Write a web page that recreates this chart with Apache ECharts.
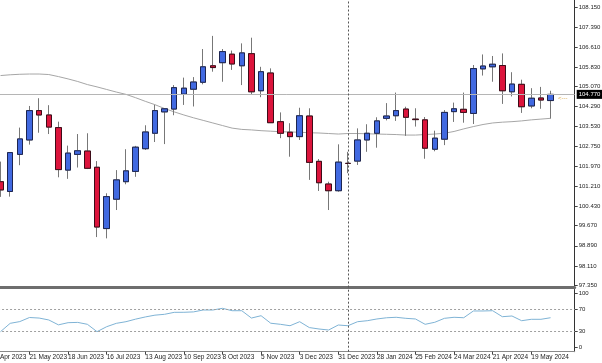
<!DOCTYPE html>
<html><head><meta charset="utf-8">
<script src="https://cdn.jsdelivr.net/npm/echarts@6/dist/echarts.min.js"></script>
<style>html,body{margin:0;padding:0;background:#fff;overflow:hidden}#c{width:602px;height:363px}</style>
</head><body><div id="c"></div>
<script>
// weekly categories (first and last two are empty slots)
const categories = ['23 Apr 2023','30 Apr 2023','7 May 2023','14 May 2023','21 May 2023','28 May 2023','4 Jun 2023','11 Jun 2023','18 Jun 2023','25 Jun 2023','2 Jul 2023','9 Jul 2023','16 Jul 2023','23 Jul 2023','30 Jul 2023','6 Aug 2023','13 Aug 2023','20 Aug 2023','27 Aug 2023','3 Sep 2023','10 Sep 2023','17 Sep 2023','24 Sep 2023','1 Oct 2023','8 Oct 2023','15 Oct 2023','22 Oct 2023','29 Oct 2023','5 Nov 2023','12 Nov 2023','19 Nov 2023','26 Nov 2023','3 Dec 2023','10 Dec 2023','17 Dec 2023','24 Dec 2023','31 Dec 2023','7 Jan 2024','14 Jan 2024','21 Jan 2024','28 Jan 2024','4 Feb 2024','11 Feb 2024','18 Feb 2024','25 Feb 2024','3 Mar 2024','10 Mar 2024','17 Mar 2024','24 Mar 2024','31 Mar 2024','7 Apr 2024','14 Apr 2024','21 Apr 2024','28 Apr 2024','5 May 2024','12 May 2024','19 May 2024','26 May 2024','2 Jun 2024','9 Jun 2024','16 Jun 2024'];
const firstBar = 1; // index in categories of the first candle (30 Apr 2023)

const open  = [101.38,101.00,102.44,103.00,104.14,103.97,103.48,101.83,102.44,102.57,101.94,99.56,100.70,101.38,101.78,102.66,103.26,104.09,104.20,104.78,104.97,105.24,105.88,106.00,106.33,105.88,106.35,104.91,105.60,103.71,103.30,103.13,103.93,102.17,101.29,101.03,102.09,102.18,103.00,103.26,103.84,103.94,104.20,103.81,103.78,102.64,103.03,104.10,104.19,104.03,105.76,105.84,105.89,104.87,105.16,104.32,104.63,104.53];
const close = [101.06,102.51,103.04,104.14,103.97,103.50,101.85,102.49,102.58,101.90,99.62,100.80,101.45,101.80,102.72,103.31,104.14,104.21,105.03,105.01,105.25,105.84,105.81,106.43,105.95,106.38,104.87,105.65,103.67,103.26,103.13,103.94,102.13,101.34,101.03,102.14,102.09,103.00,103.26,103.74,103.93,104.14,103.88,103.79,102.68,103.07,104.07,104.21,104.07,105.77,105.87,105.94,104.91,105.17,104.29,104.62,104.55,104.77];
const low   = [100.79,100.80,102.02,102.82,103.28,103.23,101.55,101.49,101.93,101.87,99.23,99.18,100.28,101.28,101.57,102.61,102.92,102.84,103.96,104.36,104.30,105.16,105.65,105.26,105.72,105.13,104.75,104.66,103.66,103.07,102.35,103.00,101.45,101.02,100.28,100.99,101.71,102.03,102.54,102.70,103.76,103.74,103.16,103.52,102.27,102.56,102.80,103.70,103.67,103.62,105.50,105.26,104.40,104.69,104.05,104.23,104.21,103.83];
const high  = [102.16,102.53,103.48,104.32,104.62,104.35,103.71,102.78,103.23,103.26,102.18,100.93,101.83,102.64,102.77,103.57,104.36,104.23,105.13,105.42,105.44,106.53,107.04,106.53,106.47,106.75,106.97,105.84,105.78,104.07,103.65,104.25,104.23,102.26,101.38,102.83,102.54,103.45,103.61,103.88,104.43,104.84,104.29,104.23,103.89,103.36,104.16,104.45,104.84,105.91,106.32,106.26,106.36,105.63,105.34,105.01,105.06,104.91];
const movingAvg = [105.50,105.53,105.55,105.56,105.56,105.54,105.46,105.37,105.27,105.15,105.06,104.96,104.86,104.77,104.64,104.50,104.37,104.22,104.09,103.97,103.86,103.76,103.66,103.56,103.46,103.41,103.39,103.36,103.34,103.32,103.31,103.30,103.28,103.27,103.25,103.23,103.25,103.25,103.24,103.23,103.22,103.21,103.19,103.19,103.21,103.23,103.26,103.33,103.43,103.52,103.60,103.66,103.69,103.71,103.74,103.78,103.81,103.84];
const rsi = [29.5,44.8,48,55.5,54.5,51,42,46,46.5,43,29.5,38.6,44.8,47.8,52.5,56.5,59.8,61.4,65,65.1,65.8,69.3,69.3,72.4,68,68,54.5,58.8,45,43,40.4,47.8,37,34.4,32.5,41.7,40.4,47.8,49.6,52.8,55,55.9,54,52.8,43,46.7,54,55.9,55.1,67.5,67.5,68,57,58.3,49.6,52.2,52.2,55.1];

const priceTicks = [97.35,98.11,98.89,99.67,100.43,101.21,101.97,102.75,103.53,104.29,105.07,105.83,106.61,107.39,108.15];
const priceMin = 97.35, priceMax = 108.15;
const lastPrice = 104.77;
const rsiTicks = [0,30,70,100];
const rsiLevels = [70,30];
const xTickLabels = ['23 Apr 2023','21 May 2023','18 Jun 2023','16 Jul 2023','13 Aug 2023','10 Sep 2023','8 Oct 2023','5 Nov 2023','3 Dec 2023','31 Dec 2023','28 Jan 2024','25 Feb 2024','24 Mar 2024','21 Apr 2024','19 May 2024'];
const separatorDate = '7 Jan 2024';

const idxOf = k => { const i = k - firstBar; return (i >= 0 && i < open.length) ? i : -1; };
const wickData = categories.map((_, k) => { const i = idxOf(k); return i < 0 ? ['-','-','-','-'] : [open[i], close[i], low[i], high[i]]; });
const bodyData = categories.map((_, k) => { const i = idxOf(k); return i < 0 ? ['-','-','-','-'] : [open[i], close[i], Math.min(open[i], close[i]), Math.max(open[i], close[i])]; });
const pad = arr => categories.map((_, k) => { const i = idxOf(k); return i < 0 ? '-' : arr[i]; });

const FONT = 'Liberation Sans';
const L = -13.95, R = 27.3;
const hiddenCat = gi => ({ type:'category', gridIndex:gi, data:categories, boundaryGap:true,
  axisLine:{show:false}, axisTick:{show:false}, axisLabel:{show:false}, splitLine:{show:false} });

const chart = echarts.init(document.getElementById('c'), null, {renderer:'canvas'});
chart.setOption({
  animation:false,
  backgroundColor:'#ffffff',
  grid:[
    {left:L, right:R, top:7.3, bottom:77.5, outerBoundsMode:'none', containLabel:false},
    {left:L, right:R, top:0, bottom:75.5, outerBoundsMode:'none', containLabel:false},
    {left:L, right:R, top:289.5, bottom:11.3, outerBoundsMode:'none', containLabel:false},
    {left:L, right:R, top:293.3, bottom:15.3, outerBoundsMode:'none', containLabel:false}
  ],
  xAxis:[
    hiddenCat(0),
    Object.assign(hiddenCat(1), {axisLine:{show:true, onZero:false, lineStyle:{color:'#6e6e6e', width:3}}}),
    Object.assign(hiddenCat(2), {
      axisLine:{show:true, onZero:false, lineStyle:{color:'#8a8a8a', width:1}},
      axisTick:{show:true, alignWithLabel:true, length:3, lineStyle:{color:'#444'},
        interval:(i, v) => xTickLabels.includes(v)},
      axisLabel:{show:true, align:'left', margin:2, fontSize:6.5, fontFamily:FONT, color:'#222',
        interval:(i, v) => xTickLabels.includes(v)}
    }),
    hiddenCat(3)
  ],
  yAxis:[
    {type:'value', gridIndex:0, position:'right', min:priceMin, max:priceMax, scale:true,
      axisLine:{show:false}, splitLine:{show:false},
      axisTick:{show:true, length:3, customValues:priceTicks, lineStyle:{color:'#444'}},
      axisLabel:{show:true, customValues:priceTicks, margin:4, fontSize:6, fontFamily:FONT, color:'#222',
        formatter:v => v.toFixed(3)}},
    {type:'value', gridIndex:1, position:'right', min:0, max:1,
      axisLine:{show:true, lineStyle:{color:'#333', width:1}}, axisTick:{show:false}, axisLabel:{show:false}, splitLine:{show:false}},
    {type:'value', gridIndex:2, position:'right', min:0, max:1,
      axisLine:{show:true, lineStyle:{color:'#333', width:1}}, axisTick:{show:false}, axisLabel:{show:false}, splitLine:{show:false}},
    {type:'value', gridIndex:3, position:'right', min:0, max:100,
      axisLine:{show:false}, splitLine:{show:false},
      axisTick:{show:true, length:3, customValues:rsiTicks, lineStyle:{color:'#444'}},
      axisLabel:{show:true, customValues:rsiTicks, margin:4, fontSize:6, fontFamily:FONT, color:'#222'}}
  ],
  series:[
    {type:'line', name:'MA', xAxisIndex:0, yAxisIndex:0, data:pad(movingAvg), symbol:'none', z:2,
      lineStyle:{color:'#a6a6a6', width:1},
      markLine:{silent:true, symbol:'none', animation:false,
        lineStyle:{color:'#b5b5b5', width:1, type:'solid'},
        label:{show:true, position:'end', distance:2, formatter:() => lastPrice.toFixed(3),
          backgroundColor:'#000', color:'#fff', fontSize:6, fontFamily:FONT, padding:[2,2,1,2]},
        data:[{yAxis:lastPrice}]}},
    {type:'candlestick', name:'wicks', xAxisIndex:0, yAxisIndex:0, data:wickData, barWidth:6, z:3,
      itemStyle:{color:'#4169e1', color0:'#dc143c', borderColor:'#777777', borderColor0:'#777777', borderWidth:1}},
    {type:'candlestick', name:'bodies', xAxisIndex:0, yAxisIndex:0, data:bodyData, barWidth:6, z:4,
      itemStyle:{color:'#4169e1', color0:'#dc143c', borderColor:'#1d2550', borderColor0:'#3d0c18', borderWidth:1}},
    {type:'line', name:'frameTop', xAxisIndex:1, yAxisIndex:1, data:[], z:5,
      markLine:{silent:true, symbol:'none', animation:false, label:{show:false},
        lineStyle:{color:'#555', width:1, type:[2,2]}, data:[{xAxis:separatorDate}]}},
    {type:'line', name:'frameBottom', xAxisIndex:2, yAxisIndex:2, data:[], z:5,
      markLine:{silent:true, symbol:'none', animation:false, label:{show:false},
        lineStyle:{color:'#555', width:1, type:[2,2]}, data:[{xAxis:separatorDate}]}},
    {type:'line', name:'RSI', xAxisIndex:3, yAxisIndex:3, data:pad(rsi), symbol:'none', z:3,
      lineStyle:{color:'#7fb3d5', width:1},
      markLine:{silent:true, symbol:'none', animation:false, label:{show:false},
        lineStyle:{color:'#a0a0a0', width:1, type:[2,2]},
        data:rsiLevels.map(v => ({yAxis:v}))}}
  ],
  graphic:[
    {type:'text', left:558, top:95, silent:true,
      style:{text:'<---', fill:'#d9a848', fontSize:6, fontFamily:FONT}}
  ]
});
</script>
</body></html>
